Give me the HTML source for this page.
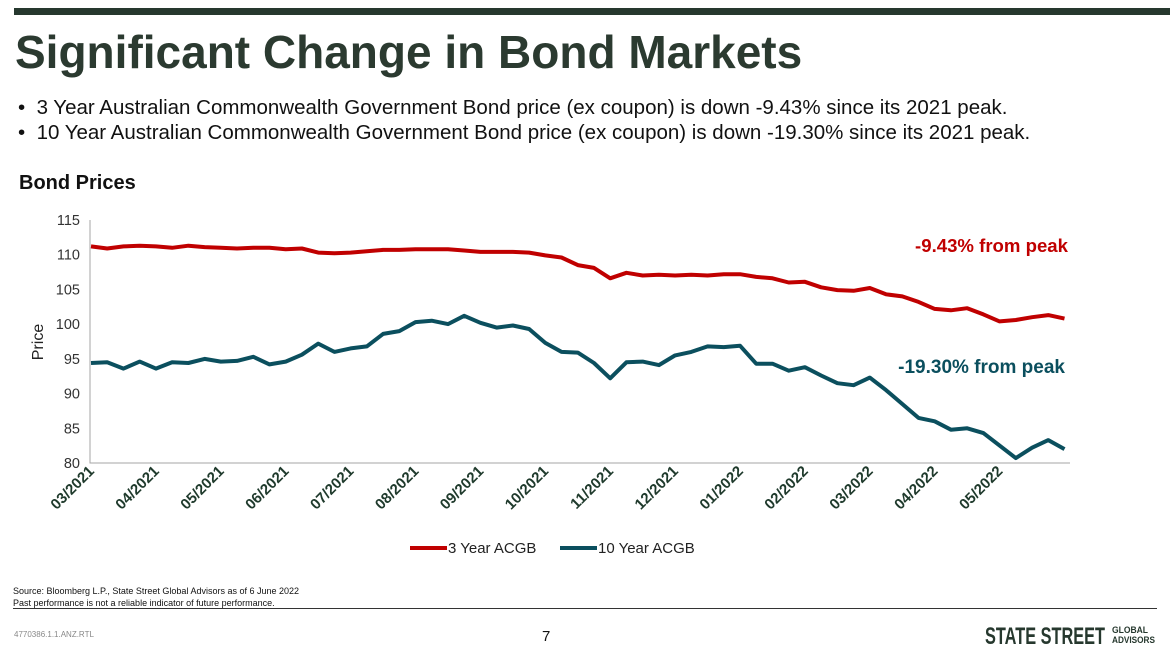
<!DOCTYPE html>
<html><head><meta charset="utf-8"><style>
body{margin:0;width:1170px;height:652px;overflow:hidden;background:#fff;font-family:"Liberation Sans",Arial,sans-serif;position:relative}
.a{position:absolute;white-space:nowrap}
</style></head><body>
<div class="a" style="left:14px;top:8px;width:1156px;height:7px;background:#26382e"></div>
<div class="a" style="left:15px;top:25px;font-size:46px;font-weight:bold;color:#2b3a30">Significant Change in Bond Markets</div>
<div class="a" style="left:18px;top:96px;font-size:20.5px;color:#111">•&nbsp; 3 Year Australian Commonwealth Government Bond price (ex coupon) is down -9.43% since its 2021 peak.</div>
<div class="a" style="left:18px;top:121px;font-size:20.5px;color:#111">•&nbsp; 10 Year Australian Commonwealth Government Bond price (ex coupon) is down -19.30% since its 2021 peak.</div>
<div class="a" style="left:19px;top:172px;font-size:20px;font-weight:bold;color:#111">Bond Prices</div>
<svg class="a" style="left:0;top:0" width="1170" height="652" id="chart"></svg>
<div class="a" style="left:13px;top:585px;font-size:9px;color:#111;line-height:12px">Source: Bloomberg L.P., State Street Global Advisors as of 6 June 2022<br>Past performance is not a reliable indicator of future performance.</div>
<div class="a" style="left:13px;top:608px;width:1144px;height:1px;background:#333"></div>
<div class="a" style="left:14px;top:630px;font-size:8px;color:#888">4770386.1.1.ANZ.RTL</div>
<div class="a" style="left:542px;top:628px;font-size:15px;color:#111">7</div>
<svg class="a" style="left:980px;top:618px" width="180" height="30">
<text x="5" y="26" font-size="24" font-weight="bold" fill="#26382e" textLength="120" lengthAdjust="spacingAndGlyphs" font-family="Liberation Sans">STATE STREET</text>
<text x="132" y="15" font-size="9" font-weight="bold" fill="#26382e" textLength="36" lengthAdjust="spacingAndGlyphs" font-family="Liberation Sans">GLOBAL</text>
<text x="132" y="25" font-size="9" font-weight="bold" fill="#26382e" textLength="43" lengthAdjust="spacingAndGlyphs" font-family="Liberation Sans">ADVISORS</text>
</svg>
<script>
const months=[0,0.25,0.5,0.75,1,1.25,1.5,1.75,2,2.25,2.5,2.75,3,3.25,3.5,3.75,4,4.25,4.5,4.75,5,5.25,5.5,5.75,6,6.25,6.5,6.75,7,7.25,7.5,7.75,8,8.25,8.5,8.75,9,9.25,9.5,9.75,10,10.25,10.5,10.75,11,11.25,11.5,11.75,12,12.25,12.5,12.75,13,13.25,13.5,13.75,14,14.25,14.5,14.75,15];
const acgb3=[111.2,110.9,111.2,111.3,111.2,111.0,111.3,111.1,111.0,110.9,111.0,111.0,110.8,110.9,110.3,110.2,110.3,110.5,110.7,110.7,110.8,110.8,110.8,110.6,110.4,110.4,110.4,110.3,109.9,109.6,108.5,108.1,106.6,107.4,107.0,107.1,107.0,107.1,107.0,107.2,107.2,106.8,106.6,106.0,106.1,105.3,104.9,104.8,105.2,104.3,104.0,103.2,102.2,102.0,102.3,101.4,100.4,100.6,101.0,101.3,100.8];
const acgb10=[94.4,94.5,93.6,94.6,93.6,94.5,94.4,95.0,94.6,94.7,95.3,94.2,94.6,95.6,97.2,96.0,96.5,96.8,98.6,99.0,100.3,100.5,100.0,101.2,100.2,99.5,99.8,99.3,97.3,96.0,95.9,94.4,92.2,94.5,94.6,94.1,95.5,96.0,96.8,96.7,96.9,94.3,94.3,93.3,93.8,92.6,91.5,91.2,92.3,90.5,88.5,86.5,86.0,84.8,85.0,84.3,82.5,80.7,82.2,83.3,82.0];
const yTicks=[80,85,90,95,100,105,110,115];
const xTickLabels=["03/2021","04/2021","05/2021","06/2021","07/2021","08/2021","09/2021","10/2021","11/2021","12/2021","01/2022","02/2022","03/2022","04/2022","05/2022"];
const seriesNames=["3 Year ACGB","10 Year ACGB"];
const X0=90,X1=1070,Y0=463,Y1=220;
const xs=m=>91+m*64.9;
const ys=v=>Y0-(v-80)/(115-80)*(Y0-Y1);
const svg=document.getElementById('chart');const NS='http://www.w3.org/2000/svg';
function mk(t,a){const e=document.createElementNS(NS,t);for(const k in a)e.setAttribute(k,a[k]);svg.appendChild(e);return e;}
let ax=mk('path',{d:`M${X0} ${Y1}V${Y0}H${X1}`,fill:'none',stroke:'#a6a6a6','stroke-width':1});


yTicks.forEach(v=>{const t=mk('text',{x:80,y:ys(v)+5,'text-anchor':'end','font-size':14.5,fill:'#333','font-family':'Liberation Sans'});t.textContent=v;

});
xTickLabels.forEach((s,i)=>{const x=xs(i)+4;const t=mk('text',{x:x,y:472,'text-anchor':'end','font-size':15,'font-weight':'bold',fill:'#1f3a2c','font-family':'Liberation Sans',transform:`rotate(-45 ${x} 472)`});t.textContent=s;

});
const yt=mk('text',{x:43,y:342,'text-anchor':'middle','font-size':16,fill:'#222','font-family':'Liberation Sans',transform:'rotate(-90 43 342)'});yt.textContent='Price';


function line(vals,col,name){const d=vals.map((v,i)=>(i?'L':'M')+xs(months[i]).toFixed(1)+' '+ys(v).toFixed(1)).join('');
const p=mk('path',{d:d,fill:'none',stroke:col,'stroke-width':4,'stroke-linejoin':'round'});

}
line(acgb3,'#c00000','line-3-year-acgb');
line(acgb10,'#0b4f5e','line-10-year-acgb');
const a1=mk('text',{x:1068,y:252,'text-anchor':'end','font-size':18.6,'font-weight':'bold',fill:'#c00000','font-family':'Liberation Sans'});a1.textContent='-9.43% from peak';


const a2=mk('text',{x:1065,y:373,'text-anchor':'end','font-size':19,'font-weight':'bold',fill:'#0b4f5e','font-family':'Liberation Sans'});a2.textContent='-19.30% from peak';


[[410,'#c00000',0],[560,'#0b4f5e',1]].forEach(([x,c,i])=>{
const l=mk('line',{x1:x,y1:548,x2:x+37,y2:548,stroke:c,'stroke-width':4});


const t=mk('text',{x:x+38,y:553,'font-size':15,fill:'#222','font-family':'Liberation Sans'});t.textContent=seriesNames[i];

});
</script>
</body></html>
